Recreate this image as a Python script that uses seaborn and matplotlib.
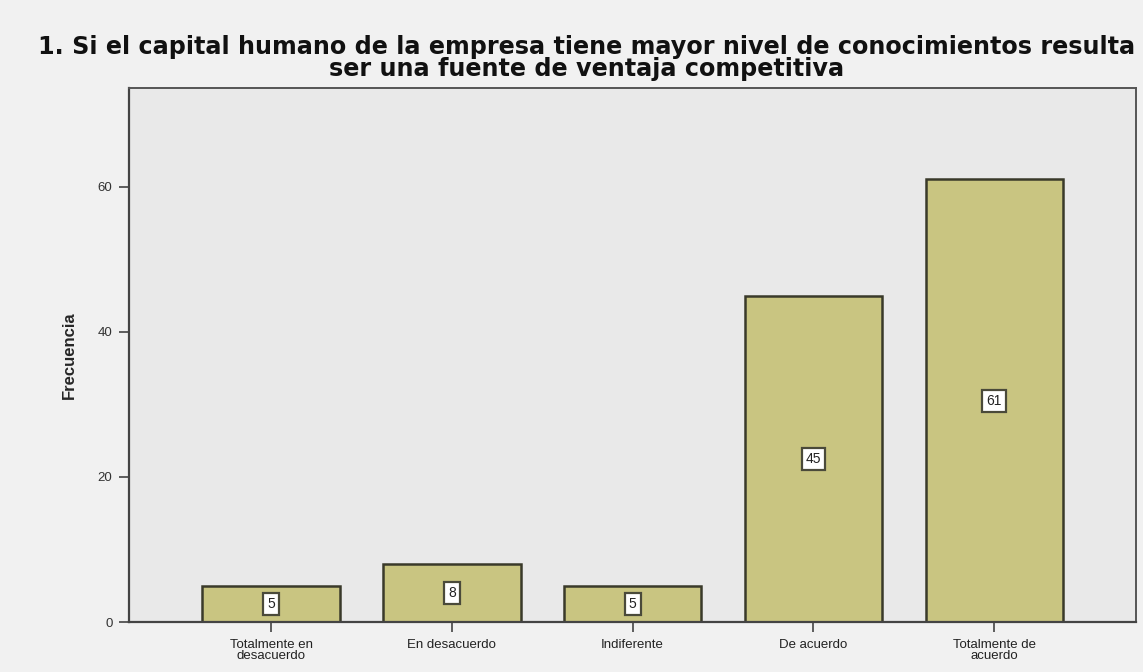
import matplotlib
matplotlib.use("Agg")
import matplotlib.pyplot as plt
import seaborn as sns
import pandas as pd

categorias = ["Totalmente en\ndesacuerdo", "En desacuerdo", "Indiferente",
              "De acuerdo", "Totalmente de\nacuerdo"]
frecuencias = [5, 8, 5, 45, 61]
titulo = ("1. Si el capital humano de la empresa tiene mayor nivel de conocimientos resulta\n"
          "ser una fuente de ventaja competitiva")

df = pd.DataFrame({"categoria": categorias, "frecuencia": frecuencias})

sns.set_theme(style="white")
plt.rcParams["font.family"] = ["Liberation Sans", "DejaVu Sans"]

fig = plt.figure(figsize=(11.43, 6.72), dpi=100, facecolor="#f1f1f1")
ax = fig.add_axes([0.113, 0.0744, 0.881, 0.7946])
ax.set_facecolor("#e9e9e9")

sns.barplot(data=df, x="categoria", y="frecuencia", ax=ax, color="#c9c581",
            saturation=1, width=0.76, edgecolor="#3a3a2a", linewidth=1.8)

ax.set_xlim(-0.785, 4.785)
ax.set_ylim(0, 73.6)
ax.set_yticks([0, 20, 40, 60])

for i, v in enumerate(frecuencias):
    ax.text(i, v / 2, str(v), ha="center", va="center", fontsize=10, color="#222222",
            bbox=dict(boxstyle="square,pad=0.3", facecolor="white",
                      edgecolor="#4a4a3a", linewidth=1.6))

ax.set_xlabel("")
ax.set_ylabel("Frecuencia", fontsize=12, fontweight="bold", labelpad=15)
ax.tick_params(axis="y", which="both", left=True, length=7, width=1.2,
               color="#444444", labelsize=9.5, labelcolor="#333333", pad=5)
ax.tick_params(axis="x", which="both", bottom=True, length=7, width=1.2,
               color="#444444", labelsize=9.5, labelcolor="#222222", pad=5)
for lbl in ax.get_xticklabels():
    lbl.set_linespacing(0.95)

for side in ["left", "bottom"]:
    ax.spines[side].set_color("#444444")
    ax.spines[side].set_linewidth(1.6)
for side in ["top", "right"]:
    ax.spines[side].set_color("#555555")
    ax.spines[side].set_linewidth(1.4)

fig.text(0.5136, 0.948, titulo, ha="center", va="top", fontsize=17.2,
         fontweight="bold", linespacing=0.9, color="#111111",
         family=["DejaVu Sans"])

fig.savefig("out.png", dpi=100, facecolor=fig.get_facecolor())
